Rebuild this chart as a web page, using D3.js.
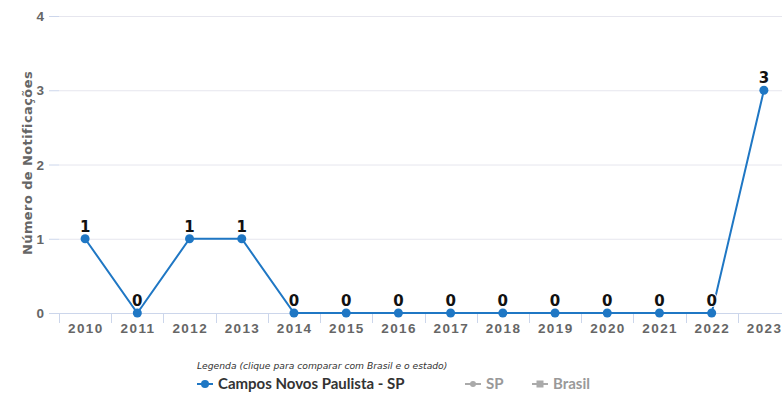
<!DOCTYPE html>
<html>
<head>
<meta charset="utf-8">
<script src="https://cdn.jsdelivr.net/npm/d3@7"></script>
<style>
  html, body { margin: 0; padding: 0; background: #fff; }
  svg { display: block; font-family: "DejaVu Sans", "Lato", sans-serif; }
</style>
</head>
<body>
<svg id="chart" width="782" height="396"></svg>
<script>
// Notificações por ano — Campos Novos Paulista (SP)
const years = ["2010","2011","2012","2013","2014","2015","2016","2017","2018","2019","2020","2021","2022","2023"];
const notificacoes = [1, 0, 1, 1, 0, 0, 0, 0, 0, 0, 0, 0, 0, 3];
const yTicks = [0, 1, 2, 3, 4];
const legendItems = ["Campos Novos Paulista - SP", "SP", "Brasil"];

const svg = d3.select("#chart");
const lineColor = "#1f77c4";

const x = d3.scaleBand().domain(years).range([59, 790]);
const y = d3.scaleLinear().domain([0, 4]).range([313, 16]);

// horizontal gridlines with a short tick stub on the left
const grid = svg.append("g");
grid.selectAll("line.grid")
  .data(yTicks)
  .join("line")
  .attr("class", "grid")
  .attr("x1", 59).attr("x2", 782)
  .attr("y1", d => y(d) + 0.5).attr("y2", d => y(d) + 0.5)
  .attr("stroke", d => d === 0 ? "#ccd6eb" : "#e6e6ee");
grid.selectAll("line.stub")
  .data(yTicks)
  .join("line")
  .attr("class", "stub")
  .attr("x1", 49).attr("x2", 59)
  .attr("y1", d => y(d) + 0.5).attr("y2", d => y(d) + 0.5)
  .attr("stroke", "#ccd6eb");

// y axis labels
const yAxis = svg.append("g").attr("transform", "translate(44,0)")
  .call(d3.axisLeft(y).tickValues(yTicks).tickSize(0).tickPadding(0).tickFormat(d3.format("d")));
yAxis.select(".domain").remove();
yAxis.selectAll("text")
  .attr("fill", "#666").attr("font-size", 13.5).attr("font-weight", 700)
  .attr("dy", "0.35em");

// x axis with tick marks at category boundaries
const xAxis = svg.append("g").attr("transform", "translate(0,313)")
  .call(d3.axisBottom(x).tickSize(0).tickPadding(10));
xAxis.select(".domain").remove();
xAxis.selectAll("text")
  .attr("fill", "#666").attr("font-size", 13.5).attr("font-weight", 700)
  .attr("letter-spacing", 1.4).attr("dx", 0.7);
svg.append("g")
  .selectAll("line")
  .data(years)
  .join("line")
  .attr("x1", d => Math.round(x(d)) + 0.5).attr("x2", d => Math.round(x(d)) + 0.5)
  .attr("y1", 313).attr("y2", 323)
  .attr("stroke", "#ccd6eb");

// y axis title
svg.append("text")
  .attr("transform", "translate(32,163) rotate(-90)")
  .attr("text-anchor", "middle")
  .attr("fill", "#666").attr("font-size", 13).attr("font-weight", 700)
  .attr("letter-spacing", 0.4)
  .text("Número de Notificações");

// series line
const cx = d => x(d) + x.bandwidth() / 2;
svg.append("path")
  .datum(notificacoes)
  .attr("fill", "none")
  .attr("stroke", lineColor)
  .attr("stroke-width", 2)
  .attr("d", d3.line().x((d, i) => cx(years[i])).y(d => y(d)));

svg.append("g")
  .selectAll("circle")
  .data(notificacoes)
  .join("circle")
  .attr("cx", (d, i) => cx(years[i]))
  .attr("cy", d => y(d))
  .attr("r", 4.5)
  .attr("fill", lineColor);

// data labels
svg.append("g")
  .selectAll("text")
  .data(notificacoes)
  .join("text")
  .attr("x", (d, i) => cx(years[i]))
  .attr("y", d => y(d) - 7)
  .attr("text-anchor", "middle")
  .attr("fill", "#111")
  .attr("stroke", "#fff").attr("stroke-width", 2).attr("paint-order", "stroke")
  .attr("font-size", 15).attr("font-weight", 700)
  .text(d => d);

// legend
svg.append("text")
  .attr("x", 197).attr("y", 369)
  .attr("fill", "#333").attr("font-size", 9.2).attr("font-style", "italic")
  .text("Legenda (clique para comparar com Brasil e o estado)");

const legend = svg.append("g").attr("transform", "translate(197,384)");
const legendX = [0, 268, 335];
const legendColors = [lineColor, "#aaa", "#aaa"];
const legendText = ["#333", "#999", "#999"];
legendItems.forEach((name, i) => {
  const g = legend.append("g").attr("transform", `translate(${legendX[i]},0)`);
  g.append("line").attr("x1", 0).attr("x2", 16).attr("y1", 0).attr("y2", 0)
    .attr("stroke", legendColors[i]).attr("stroke-width", 2);
  if (i === 2) {
    g.append("rect").attr("x", 4.5).attr("y", -3.5).attr("width", 7).attr("height", 7).attr("fill", legendColors[i]);
  } else {
    g.append("circle").attr("cx", 8).attr("cy", 0).attr("r", i === 0 ? 4 : 3).attr("fill", legendColors[i]);
  }
  g.append("text").attr("x", 21).attr("y", 5)
    .attr("fill", legendText[i]).attr("font-size", 15).attr("font-weight", 700)
    .attr("font-family", "Lato, sans-serif")
    .text(name);
});
</script>
</body>
</html>
